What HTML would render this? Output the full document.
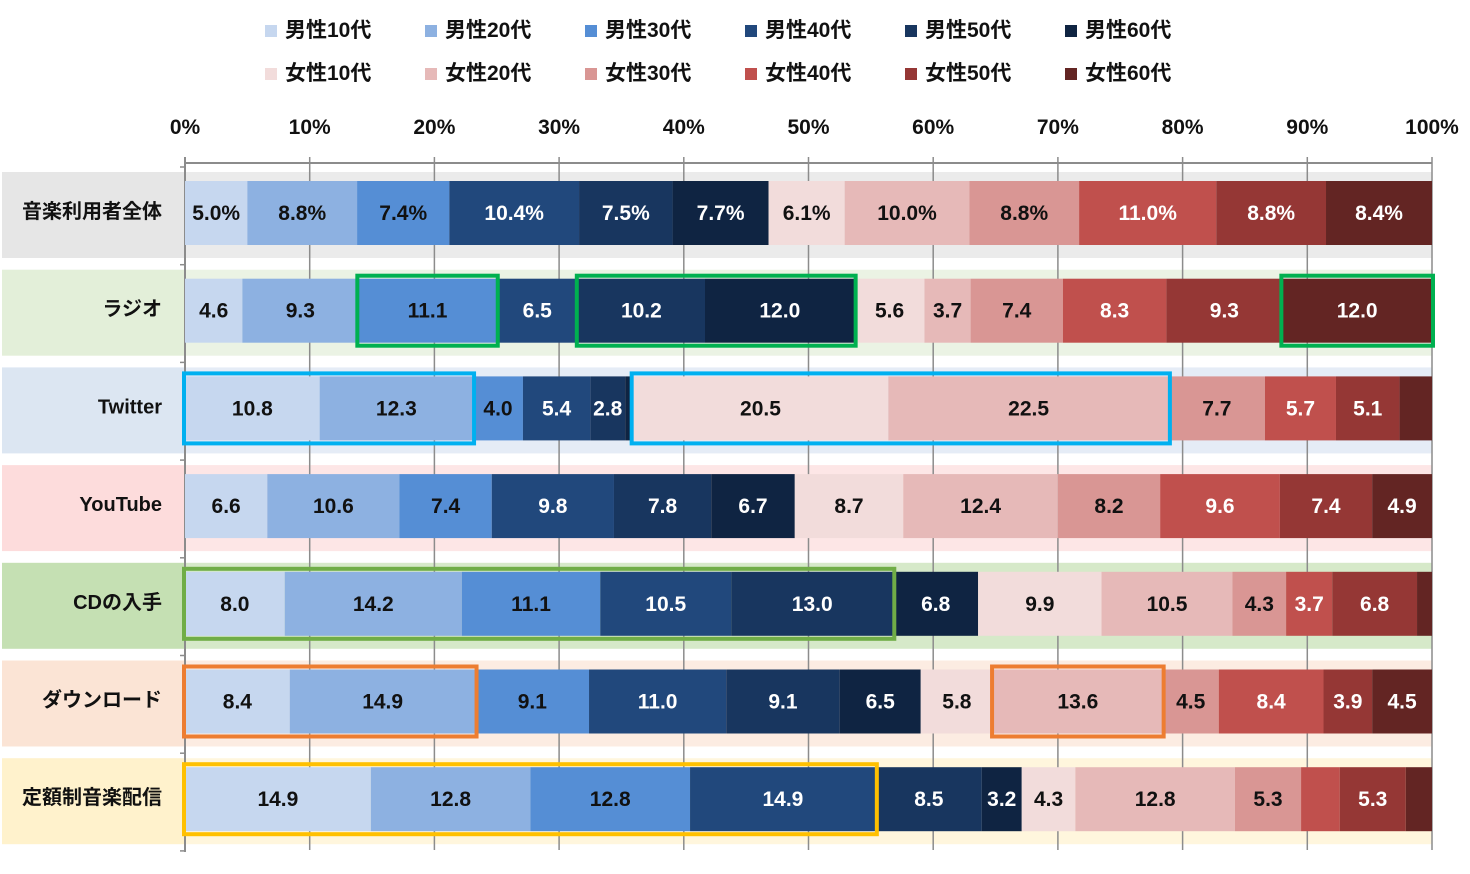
<!DOCTYPE html>
<html><head><meta charset="utf-8"><style>
body{margin:0;background:#fff;width:1470px;height:869px;overflow:hidden;font-family:"Liberation Sans","Noto Sans CJK JP",sans-serif}
svg text{font-family:"Liberation Sans","Noto Sans CJK JP",sans-serif;font-weight:bold}
</style></head><body>
<svg id="chart" width="1470" height="869" xmlns="http://www.w3.org/2000/svg"></svg>
<script>
const categories=["音楽利用者全体","ラジオ","Twitter","YouTube","CDの入手","ダウンロード","定額制音楽配信"];
const seriesNames=["男性10代","男性20代","男性30代","男性40代","男性50代","男性60代","女性10代","女性20代","女性30代","女性40代","女性50代","女性60代"];
const rowOverall=[5.0,8.8,7.4,10.4,7.5,7.7,6.1,10.0,8.8,11.0,8.8,8.4];
const rowRadio=[4.6,9.3,11.1,6.5,10.2,12.0,5.6,3.7,7.4,8.3,9.3,12.0];
const rowTwitter=[10.8,12.3,4.0,5.4,2.8,0.6,20.5,22.5,7.7,5.7,5.1,2.6];
const rowYouTube=[6.6,10.6,7.4,9.8,7.8,6.7,8.7,12.4,8.2,9.6,7.4,4.9];
const rowCD=[8.0,14.2,11.1,10.5,13.0,6.8,9.9,10.5,4.3,3.7,6.8,1.2];
const rowDownload=[8.4,14.9,9.1,11.0,9.1,6.5,5.8,13.6,4.5,8.4,3.9,4.5];
const rowSub=[14.9,12.8,12.8,14.9,8.5,3.2,4.3,12.8,5.3,3.1,5.3,2.1];
const rows=[rowOverall,rowRadio,rowTwitter,rowYouTube,rowCD,rowDownload,rowSub];
const hideLabel=[[],[],[5,11],[],[11],[],[9,11]];
const xTicks=[0,10,20,30,40,50,60,70,80,90,100];
const highlights=[[1,2,2,"#00b050"],[1,4,5,"#00b050"],[1,11,11,"#00b050"],[2,0,1,"#00b0f0"],[2,6,7,"#00b0f0"],[4,0,4,"#70ad47"],[5,0,1,"#ed7d31"],[5,7,7,"#ed7d31"],[6,0,3,"#ffc000"]];
const colors=["#c6d7ef","#8db1e1","#558ed5","#21487c","#18365f","#0f2442","#f2dcdb","#e6b9b8","#d99694","#c0504d","#953735","#632523"];
const darkText=[1,1,1,0,0,0,1,1,1,0,0,0];
const bandLeft=["#e6e6e6","#e3efd9","#dce6f2","#fddcdc","#c5e0b3","#fbe4d5","#fff2cc"];
const bandRight=["#ebebeb","#ebf3e4","#e5ecf6","#fde6e6","#d6e9c9","#fcece2","#fff6dd"];
const x0=185,x1=1432;
const X=v=>x0+(x1-x0)*v/100;
const bandTop=i=>172+i*97.7;
const svg=document.getElementById('chart');
const NS="http://www.w3.org/2000/svg";
function mk(tag,attrs,parent){const e=document.createElementNS(NS,tag);for(const k in attrs)e.setAttribute(k,attrs[k]);(parent||svg).appendChild(e);return e;}
categories.forEach((c,i)=>{
  const y=bandTop(i);
  const b=mk('rect',{x:X(0),y:y,width:x1-X(0),height:86,fill:bandRight[i]});
  
  
  const l=mk('rect',{x:2,y:y,width:X(0)-2,height:86,fill:bandLeft[i]});
  
  
  const t=mk('text',{x:162,y:y+43+3,'text-anchor':'end','font-size':20,fill:'#111'});
  t.textContent=c;
  
  
});
xTicks.forEach(v=>{
  const g=mk('line',{x1:X(v),x2:X(v),y1:157,y2:850,stroke:'#8c8c8c','stroke-width':1.5});
  
  
  const t=mk('text',{x:X(v),y:134,'text-anchor':'middle','font-size':21,fill:'#111'});
  t.textContent=v+'%';
  
  
});
const ax=mk('line',{x1:X(0),x2:x1,y1:163,y2:163,stroke:'#8c8c8c','stroke-width':2});


const ay=mk('line',{x1:X(0),x2:X(0),y1:157,y2:852,stroke:'#8c8c8c','stroke-width':2});


for(let i=0;i<=categories.length;i++){
  const yy=bandTop(i)-5;
  const tk=mk('line',{x1:X(0)-5,x2:X(0),y1:yy,y2:yy,stroke:'#8c8c8c','stroke-width':1.5});
  
  
}
rows.forEach((row,i)=>{
  let acc=0;const y=bandTop(i)+9;
  const total=row.reduce((a,b)=>a+b,0);
  row.forEach((v,j)=>{
    const isLast=j===row.length-1;
    const xa=X(acc),xb=isLast&&total>99.4?X(100):X(Math.min(100,acc+v));acc+=v;
    const r=mk('rect',{x:xa,y:y,width:Math.max(0,xb-xa),height:64,fill:colors[j]});
    
    
    if(hideLabel[i].includes(j))return;
    const t=mk('text',{x:(xa+xb)/2,y:y+32+7,'text-anchor':'middle','font-size':21,fill:darkText[j]?'#111':'#fff'});
    t.textContent=i===0?v.toFixed(1)+'%':v.toFixed(1);
    
    
  });
});
highlights.forEach(h=>{
  const row=rows[h[0]];let s=0;for(let k=0;k<h[1];k++)s+=row[k];let e=s;for(let k=h[1];k<=h[2];k++)e+=row[k];
  if(h[2]===row.length-1)e=100;
  e=Math.min(100,e);
  const y=bandTop(h[0])+9;
  const b=mk('rect',{x:X(s)-1,y:y-3,width:X(e)-X(s)+2,height:70,fill:'none',stroke:h[3],'stroke-width':4});
  
  
});
seriesNames.forEach((n,j)=>{
  const col=j%6,r=Math.floor(j/6);
  const lx=265+col*160,ly=30+r*43;
  const g=mk('g',{});
  
  
  mk('rect',{x:lx,y:ly-5,width:12,height:12,fill:colors[j]},g);
  const t=mk('text',{x:lx+20,y:ly+7,'font-size':21,fill:'#111'},g);
  t.textContent=n;
});
</script>
</body></html>
